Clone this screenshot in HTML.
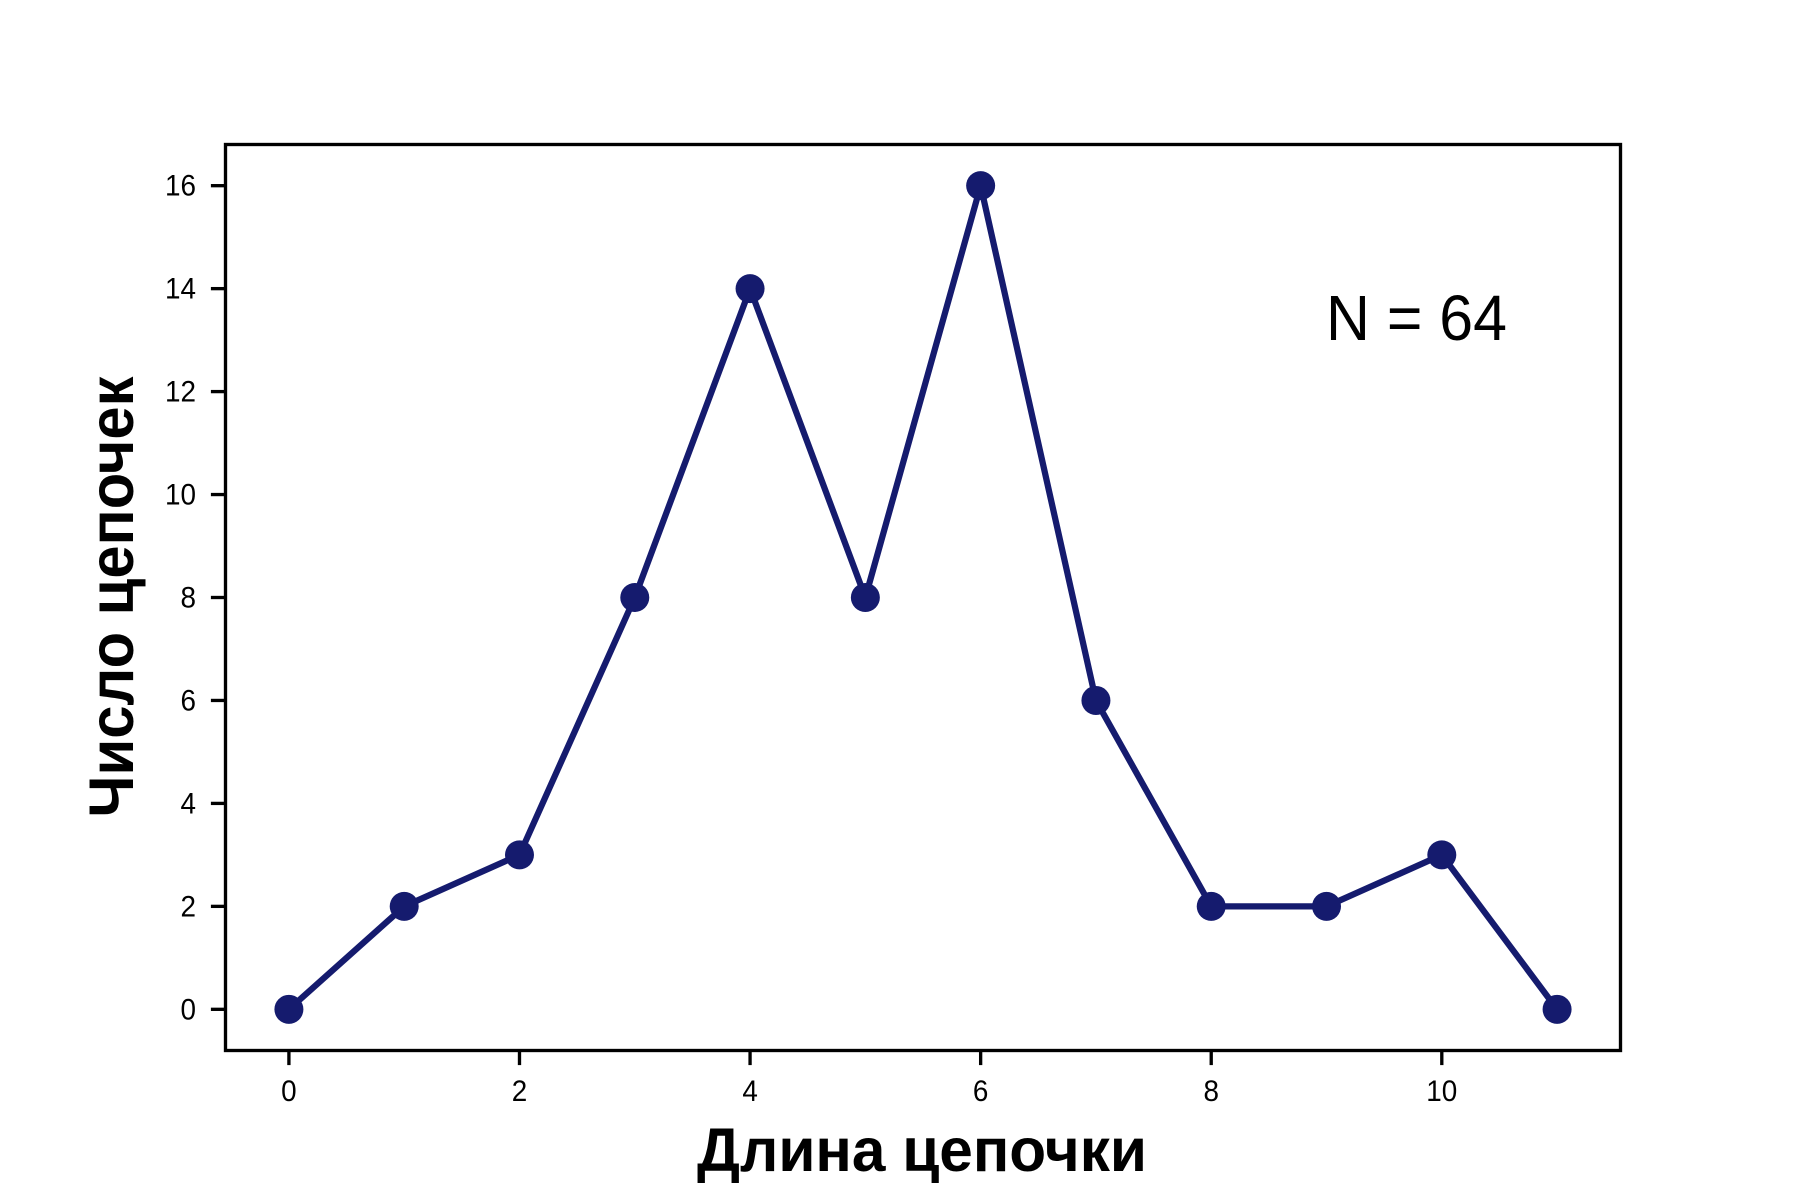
<!DOCTYPE html>
<html lang="ru">
<head>
<meta charset="utf-8">
<title>Число цепочек по длине цепочки</title>
<style>
  html, body { margin: 0; padding: 0; background: #ffffff; }
  svg { display: block; }
  text { font-family: "Liberation Sans", "DejaVu Sans", sans-serif; fill: #000000; }
</style>
</head>
<body>
<svg id="chart" xmlns="http://www.w3.org/2000/svg" width="1800" height="1200" viewBox="0 0 1800 1200">
  <rect x="0" y="0" width="1800" height="1200" fill="#ffffff"/>
  <g id="ticks"></g>
  <g id="series"></g>
  <rect x="225.5" y="144.5" width="1395" height="906" fill="none" stroke="#000000" stroke-width="3.33"/>
  <text x="697" y="1171" font-size="61" font-weight="700" textLength="450" lengthAdjust="spacingAndGlyphs">Длина цепочки</text>
  <text transform="translate(133 597) rotate(-90)" text-anchor="middle" font-size="63" font-weight="700" textLength="441" lengthAdjust="spacingAndGlyphs">Число цепочек</text>
  <text x="1326" y="340" font-size="64" textLength="181" lengthAdjust="spacingAndGlyphs">N = 64</text>
</svg>
<script>
const chainLengths = [0, 1, 2, 3, 4, 5, 6, 7, 8, 9, 10, 11];
const chainCounts = [0, 2, 3, 8, 14, 8, 16, 6, 2, 2, 3, 0];
const xTickValues = [0, 2, 4, 6, 8, 10];
const yTickValues = [0, 2, 4, 6, 8, 10, 12, 14, 16];

const SVG_NS = 'http://www.w3.org/2000/svg';
const plot = { left: 225.5, right: 1620.5, top: 144.5, bottom: 1050.5 };
const lineColor = '#151b6e';

function extent(values) {
  return [Math.min.apply(null, values), Math.max.apply(null, values)];
}
const xExtent = extent(chainLengths);
const yExtent = extent(chainCounts);
const xPad = (xExtent[1] - xExtent[0]) * 0.05;
const yPad = (yExtent[1] - yExtent[0]) * 0.05;

function xScale(v) {
  return plot.left + (v - (xExtent[0] - xPad)) / ((xExtent[1] + xPad) - (xExtent[0] - xPad)) * (plot.right - plot.left);
}
function yScale(v) {
  return plot.bottom - (v - (yExtent[0] - yPad)) / ((yExtent[1] + yPad) - (yExtent[0] - yPad)) * (plot.bottom - plot.top);
}
function make(tag, attrs) {
  const el = document.createElementNS(SVG_NS, tag);
  Object.keys(attrs).forEach(function (k) { el.setAttribute(k, attrs[k]); });
  return el;
}

const ticksGroup = document.getElementById('ticks');
const seriesGroup = document.getElementById('series');

xTickValues.forEach(function (v) {
  const x = xScale(v);
  const tick = make('line', { x1: x, x2: x, y1: plot.bottom, y2: plot.bottom + 14.6, stroke: '#000', 'stroke-width': 3.33 });
  
  
  ticksGroup.appendChild(tick);
  const label = String(v);
  const text = make('text', { x: x, y: 1101, 'text-anchor': 'middle', 'font-size': 29.5, textLength: label.length * 15.5, lengthAdjust: 'spacingAndGlyphs' });
  
  
  text.textContent = label;
  ticksGroup.appendChild(text);
});

yTickValues.forEach(function (v) {
  const y = yScale(v);
  const tick = make('line', { x1: plot.left - 14.6, x2: plot.left, y1: y, y2: y, stroke: '#000', 'stroke-width': 3.33 });
  
  
  ticksGroup.appendChild(tick);
  const label = String(v);
  const text = make('text', { x: 196, y: y + 10, 'text-anchor': 'end', 'font-size': 29.5, textLength: label.length * 15.5, lengthAdjust: 'spacingAndGlyphs' });
  
  
  text.textContent = label;
  ticksGroup.appendChild(text);
});

const linePoints = chainLengths.map(function (v, i) {
  return xScale(v).toFixed(2) + ',' + yScale(chainCounts[i]).toFixed(2);
}).join(' ');
const seriesLine = make('polyline', { points: linePoints, fill: 'none', stroke: lineColor, 'stroke-width': 6.25, 'stroke-linejoin': 'round', 'stroke-linecap': 'square' });


seriesGroup.appendChild(seriesLine);

chainLengths.forEach(function (v, i) {
  const point = make('circle', { cx: xScale(v), cy: yScale(chainCounts[i]), r: 14.5, fill: lineColor });
  
  
  seriesGroup.appendChild(point);
});
</script>
</body>
</html>
